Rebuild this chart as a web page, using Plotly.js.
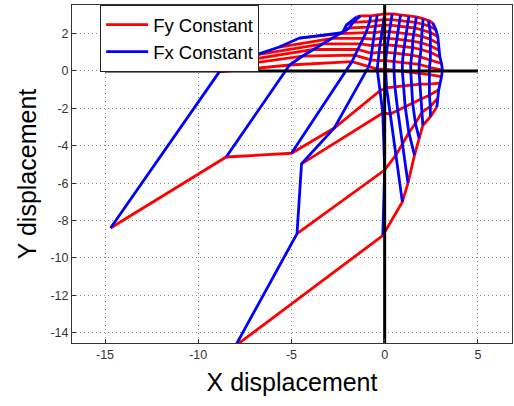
<!DOCTYPE html>
<html>
<head>
<meta charset="utf-8">
<script src="https://cdn.plot.ly/plotly-3.0.1.min.js"></script>
<style>html,body{margin:0;padding:0;background:#fff}#chart{width:514px;height:406px}</style>
</head>
<body>
<div id="chart"></div>
<script>
// Each row = one "Fy Constant" curve; column k of every row = one "Fx Constant" curve.
const r0x = [-1.5,-1.3,-0.75,-0.4,0.0,0.4,0.85,1.3,1.7,2.05,2.35,2.58];
const r0y = [2.9,2.95,2.95,3.0,3.05,3.05,3.0,2.95,2.9,2.8,2.7,2.57];
const r1x = [-2.05,-1.7,-0.8,-0.45,-0.05,0.35,0.8,1.25,1.65,2.05,2.4,2.75];
const r1y = [2.46,2.6,2.65,2.7,2.75,2.75,2.7,2.65,2.6,2.5,2.4,2.2];
const r2x = [-2.26,-1.9,-0.9,-0.5,-0.1,0.3,0.75,1.2,1.6,2.0,2.45,2.85];
const r2y = [2.05,2.3,2.35,2.4,2.45,2.45,2.4,2.35,2.3,2.2,2.05,1.85];
const r3x = [-4.57,-2.4,-1.0,-0.55,-0.15,0.25,0.7,1.15,1.55,2.0,2.45,2.9];
const r3y = [1.76,2.0,2.05,2.05,2.1,2.1,2.05,2.0,1.95,1.85,1.7,1.45];
const r4x = [-5.65,-2.8,-1.15,-0.6,-0.2,0.2,0.65,1.1,1.5,1.95,2.45,2.93];
const r4y = [1.28,1.75,1.75,1.7,1.75,1.75,1.7,1.65,1.6,1.5,1.35,1.1];
const r5x = [-6.9,-3.3,-1.3,-0.65,-0.25,0.15,0.6,1.05,1.5,1.95,2.45,2.96];
const r5y = [0.86,1.45,1.45,1.35,1.4,1.4,1.35,1.3,1.25,1.15,1.0,0.75];
const r6x = [-7.6,-3.8,-1.45,-0.7,-0.3,0.1,0.55,1.0,1.45,1.9,2.45,3.05];
const r6y = [0.55,1.15,1.15,0.95,1.0,1.0,0.95,0.9,0.85,0.75,0.6,0.4];
const r7x = [-8.3,-4.4,-1.6,-0.75,-0.35,0.05,0.5,0.95,1.4,1.85,2.4,3.1];
const r7y = [0.25,0.8,0.85,0.6,0.55,0.55,0.5,0.45,0.4,0.35,0.2,0.05];
const r8x = [-8.87,-5.1,-1.75,-0.85,-0.4,0.05,0.5,0.95,1.4,1.85,2.4,3.05];
const r8y = [-0.05,0.32,0.5,0.25,0.1,0.1,0.05,0.0,-0.05,-0.1,-0.2,-0.3];
const r9x = [-14.7,-8.5,-5.0,-2.7,-0.25,0.1,0.55,1.0,1.45,1.9,2.4,2.96];
const r9y = [-8.4,-4.6,-4.4,-3.05,-1.05,-0.9,-0.85,-0.8,-0.75,-0.7,-0.7,-0.65];
const r10x = [null,null,null,-4.46,-0.1,0.3,0.7,1.1,1.5,1.95,2.4,2.9];
const r10y = [null,null,null,-4.97,-2.25,-2.3,-2.1,-1.9,-1.7,-1.5,-1.3,-1.0];
const r11x = [null,null,null,-4.7,0.0,0.6,0.95,1.3,1.65,2.0,2.45,2.85];
const r11y = [null,null,null,-8.7,-5.3,-4.5,-3.9,-3.3,-2.8,-2.2,-1.9,-1.45];
const r12x = [null,null,null,-8.0,-0.1,0.95,1.25,1.6,1.85,2.05,2.45,2.8];
const r12y = [null,null,null,-14.7,-8.8,-7.0,-6.0,-4.5,-3.6,-2.9,-2.45,-1.93];

const axisLineX = [-15, 5];
const axisLineY = [-15, 5];
const xTicks = [-15,-10,-5,0,5];
const yTicks = [-14,-12,-10,-8,-6,-4,-2,0,2];

const rowsX = [r0x,r1x,r2x,r3x,r4x,r5x,r6x,r7x,r8x,r9x,r10x,r11x,r12x];
const rowsY = [r0y,r1y,r2y,r3y,r4y,r5y,r6y,r7y,r8y,r9y,r10y,r11y,r12y];

const redX=[], redY=[];
rowsX.forEach((rx,i)=>{ rx.forEach((v,k)=>{redX.push(v); redY.push(rowsY[i][k]);}); redX.push(null); redY.push(null); });
const blueX=[], blueY=[];
for (let k=0;k<r0x.length;k++){
  for (let i=0;i<rowsX.length;i++){ blueX.push(rowsX[i][k]); blueY.push(rowsY[i][k]); }
  blueX.push(null); blueY.push(null);
}

const traces = [
  {x:redX, y:redY, mode:'lines', name:'Fy Constant', line:{color:'#ff0000', width:2.8}, connectgaps:false},
  {x:blueX, y:blueY, mode:'lines', name:'Fx Constant', line:{color:'#0000ff', width:2.8}, connectgaps:false},
  {x:axisLineX, y:[0,0], mode:'lines', showlegend:false, line:{color:'#000', width:3}},
  {x:[0,0], y:axisLineY, mode:'lines', showlegend:false, line:{color:'#000', width:3}}
];

const font = 'Liberation Sans, Arial, sans-serif';
const layout = {
  width:514, height:406,
  margin:{l:72, r:2, t:5, b:63},
  paper_bgcolor:'#fff', plot_bgcolor:'#fff',
  showlegend:true,
  legend:{x:0.064, y:1, xanchor:'left', yanchor:'top', bgcolor:'#fff', bordercolor:'#222', borderwidth:1,
          font:{family:font, size:18.5, color:'#000'}, tracegroupgap:0, itemwidth:42},
  xaxis:{range:[-16.77,6.83], tickvals:xTicks, ticktext:xTicks.map(String), showgrid:true, gridcolor:'#888', griddash:'1px,3px', gridwidth:1,
         zeroline:false, showline:true, mirror:true, linecolor:'#333', linewidth:1, ticks:'inside', ticklen:4, tickcolor:'#333',
         tickfont:{family:font, size:12.5, color:'#333'},
         title:{text:'X displacement', font:{family:font, size:25, color:'#000'}, standoff:12}},
  yaxis:{range:[-14.55,3.53], tickvals:yTicks, ticktext:yTicks.map(String), showgrid:true, gridcolor:'#888', griddash:'1px,3px', gridwidth:1,
         zeroline:false, showline:true, mirror:true, linecolor:'#333', linewidth:1, ticks:'inside', ticklen:4, tickcolor:'#333',
         tickfont:{family:font, size:12.5, color:'#333'},
         title:{text:'Y displacement', font:{family:font, size:25, color:'#000'}, standoff:6}}
};
Plotly.newPlot('chart', traces, layout, {displayModeBar:false, staticPlot:true});
</script>
</body>
</html>
